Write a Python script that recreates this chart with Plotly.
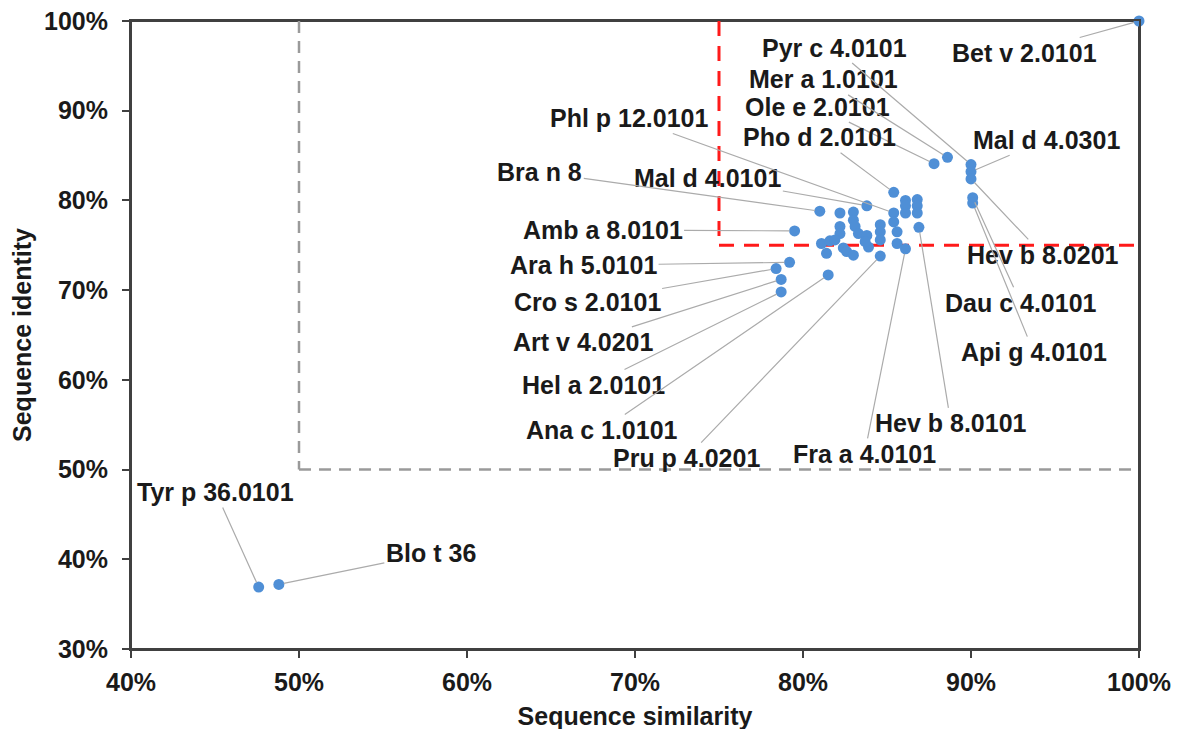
import plotly.graph_objects as go

# ---------------- data (percent) ----------------
similarity = [47.6, 48.8, 100.0,
              87.8, 88.6, 90.0, 90.0, 90.0, 90.1, 90.1,
              85.4, 86.1, 86.1, 86.1, 86.8, 86.8, 86.8, 86.9, 83.8, 81.0,
              82.2, 83.0, 82.2, 82.2, 83.0, 83.1, 83.3, 83.8, 83.9, 84.6,
              84.6, 84.6, 84.6, 85.4, 85.4, 85.6, 85.6, 86.1, 81.1, 81.6,
              81.4, 82.4, 82.6, 83.0, 83.7, 81.9, 79.5, 79.2, 78.4, 78.7,
              78.7, 81.5]
identity = [36.9, 37.2, 100.0,
            84.1, 84.8, 84.0, 83.2, 82.4, 80.3, 79.7,
            80.9, 80.0, 79.4, 78.6, 80.1, 79.4, 78.6, 77.0, 79.4, 78.8,
            78.6, 78.7, 77.1, 76.3, 77.8, 77.1, 76.3, 76.1, 74.8, 77.3,
            76.5, 75.6, 73.8, 78.6, 77.6, 76.5, 75.2, 74.6, 75.2, 75.5,
            74.1, 74.7, 74.3, 73.9, 75.4, 75.6, 76.6, 73.1, 72.4, 71.2,
            69.8, 71.7]

# labelled allergens: (name, index of the point it refers to)
label_names = ["Tyr p 36.0101", "Blo t 36", "Bet v 2.0101", "Ole e 2.0101",
               "Mer a 1.0101", "Pyr c 4.0101", "Mal d 4.0301", "Hev b 8.0201",
               "Dau c 4.0101", "Api g 4.0101", "Pho d 2.0101", "Hev b 8.0101",
               "Mal d 4.0101", "Phl p 12.0101", "Bra n 8", "Amb a 8.0101",
               "Ara h 5.0101", "Cro s 2.0101", "Art v 4.0201", "Hel a 2.0101",
               "Ana c 1.0101", "Pru p 4.0201", "Fra a 4.0101"]
label_points = [0, 1, 2, 3, 4, 5, 6, 7, 8, 9, 10, 17, 18, 33, 19, 46,
                47, 48, 49, 50, 51, 32, 37]

x_ticks = [40, 50, 60, 70, 80, 90, 100]
x_tick_labels = ["40%", "50%", "60%", "70%", "80%", "90%", "100%"]
y_ticks = [30, 40, 50, 60, 70, 80, 90, 100]
y_tick_labels = ["30%", "40%", "50%", "60%", "70%", "80%", "90%", "100%"]

gray_threshold = 50
red_threshold = 75

# ---------------- label offsets in pixels (layout) ----------------
label_offsets = [(-43, -95), (152, -31), (-115, 32), (-117, -57),
                 (-124, -78), (-137, -117), (75, -32), (72, 76),
                 (48, 105), (61, 149), (-74, -55), (32, 196),
                 (-159, -28), (-264, -95), (-280, -39), (-192, -1),
                 (-206, 3), (-189, 33), (-198, 63), (-188, 93),
                 (-226, 155), (-194, 202), (-41, 205)]

FONT = "Liberation Sans, Arial, sans-serif"
TXT = "#1a1a1a"
AX = "#404040"

fig = go.Figure()
fig.add_trace(go.Scatter(
    x=similarity, y=identity, mode="markers",
    marker=dict(size=11, color="#4f8fd6", line=dict(width=0)),
    cliponaxis=False, showlegend=False, hoverinfo="x+y"))

# threshold dashed lines (vertical ones drawn from the top down)
gray_line = dict(color="#9a9a9a", width=2.5, dash="12px,8px")
red_line = dict(color="#ff1a1a", width=3, dash="15px,10px")
fig.add_shape(type="line", x0=gray_threshold, x1=gray_threshold, y0=100, y1=gray_threshold,
              line=gray_line, layer="below")
fig.add_shape(type="line", x0=gray_threshold, x1=100, y0=gray_threshold, y1=gray_threshold,
              line=gray_line, layer="below")
fig.add_shape(type="line", x0=red_threshold, x1=red_threshold, y0=100, y1=red_threshold,
              line=red_line, layer="below")
fig.add_shape(type="line", x0=red_threshold, x1=100, y0=red_threshold, y1=red_threshold,
              line=red_line, layer="below")
# plot frame
fig.add_shape(type="rect", xref="paper", yref="paper", x0=0, x1=1, y0=0, y1=1,
              line=dict(color=AX, width=2), layer="below")

for name, idx, (dx, dy) in zip(label_names, label_points, label_offsets):
    fig.add_annotation(
        x=similarity[idx], y=identity[idx], text=name,
        showarrow=True, arrowhead=0, arrowwidth=1.2, arrowcolor="#ababab",
        ax=dx, ay=dy, standoff=5,
        font=dict(family=FONT, size=25, color=TXT, weight="bold"))

fig.update_layout(
    width=1179, height=729,
    margin=dict(l=123, r=48, t=13, b=88),
    paper_bgcolor="white", plot_bgcolor="white",
    font=dict(family=FONT, size=24, color=TXT, weight="bold"),
    xaxis=dict(range=[40, 100], tickmode="array", tickvals=x_ticks, ticktext=x_tick_labels,
               automargin=False, showgrid=False, zeroline=False,
               showline=True, linecolor=AX, linewidth=2, mirror=True,
               ticks="outside", ticklen=7, tickwidth=2, tickcolor=AX,
               ticklabelstandoff=3, ticklabeloverflow="allow",
               tickfont=dict(family=FONT, size=25, color=TXT, weight="bold"),
               title=dict(text="Sequence similarity", standoff=12,
                          font=dict(family=FONT, size=25, color=TXT, weight="bold"))),
    yaxis=dict(range=[30, 100], tickmode="array", tickvals=y_ticks, ticktext=y_tick_labels,
               automargin=False, showgrid=False, zeroline=False,
               showline=True, linecolor=AX, linewidth=2, mirror=True,
               ticks="outside", ticklen=7, tickwidth=2, tickcolor=AX,
               ticklabelstandoff=9, ticklabeloverflow="allow",
               tickfont=dict(family=FONT, size=25, color=TXT, weight="bold"),
               title=dict(text="Sequence identity", standoff=14,
                          font=dict(family=FONT, size=25, color=TXT, weight="bold"))),
)

fig.write_html("out.html")
